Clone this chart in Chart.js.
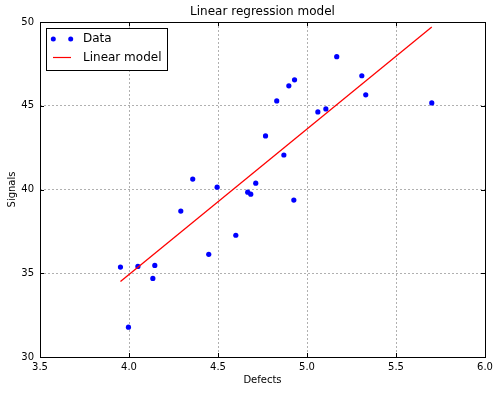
<!DOCTYPE html>
<html>
<head>
<meta charset="utf-8">
<script src="https://cdn.jsdelivr.net/npm/chart.js@4/dist/chart.umd.min.js"></script>
<style>
  html, body { margin: 0; padding: 0; background: #fff; }
  #wrap { width: 500px; height: 393px; position: relative; }
</style>
</head>
<body>
<div id="wrap"><canvas id="c" width="500" height="393"></canvas></div>
<script>
const chartTitle = "Linear regression model";
const xTitle = "Defects";
const yTitle = "Signals";
const seriesNames = ["Data", "Linear model"];

const defects = [3.952, 3.997, 4.050, 4.134, 4.145, 4.291, 4.358, 4.495, 4.448, 4.600,
                 4.667, 4.684, 4.712, 4.767, 4.830, 4.870, 4.898, 4.930, 4.926, 5.061,
                 5.106, 5.167, 5.308, 5.330, 5.701];
const signals = [35.37, 31.78, 35.41, 34.69, 35.47, 38.71, 40.62, 40.14, 36.13, 37.27,
                 39.84, 39.72, 40.38, 43.20, 45.29, 42.06, 46.19, 46.55, 39.37, 44.63,
                 44.81, 47.93, 46.79, 45.65, 45.17];
const modelX = [3.952, 5.701];
const modelY = [34.51, 49.70];

const xMin = 3.5, xMax = 6.0, xStep = 0.5;
const yMin = 30, yMax = 50, yStep = 5;

const FONT = "'DejaVu Sans', sans-serif";

const framePlugin = {
  id: 'frame',
  afterDraw(chart) {
    const ctx = chart.ctx;
    const a = chart.chartArea;
    const xs = chart.scales.x, ys = chart.scales.y;
    ctx.save();
    ctx.strokeStyle = '#000';
    ctx.lineWidth = 1;
    // inward ticks
    ctx.beginPath();
    xs.ticks.forEach(t => {
      const px = Math.round(xs.getPixelForValue(t.value)) + 0.5;
      ctx.moveTo(px, a.bottom); ctx.lineTo(px, a.bottom - 4);
      ctx.moveTo(px, a.top); ctx.lineTo(px, a.top + 4);
    });
    ys.ticks.forEach(t => {
      const py = Math.round(ys.getPixelForValue(t.value)) + 0.5;
      ctx.moveTo(a.left, py); ctx.lineTo(a.left + 4, py);
      ctx.moveTo(a.right, py); ctx.lineTo(a.right - 4, py);
    });
    ctx.stroke();
    ctx.strokeRect(Math.round(a.left) + 0.5, Math.round(a.top) + 0.5,
                   Math.round(a.right - a.left), Math.round(a.bottom - a.top));
    // title
    ctx.fillStyle = '#000';
    ctx.font = "12px " + FONT;
    ctx.textAlign = 'center';
    ctx.textBaseline = 'middle';
    ctx.fillText(chartTitle, (a.left + a.right) / 2, 12);
    // legend
    const lx = Math.round(a.left) + 6, ly = Math.round(a.top) + 6;
    const lw = 121, lh = 42;
    ctx.fillStyle = '#fff';
    ctx.fillRect(lx, ly, lw, lh);
    ctx.strokeStyle = '#000';
    ctx.strokeRect(lx + 0.5, ly + 0.5, lw, lh);
    ctx.fillStyle = '#0000ff';
    [53.3, 70.7].forEach(cx => {
      ctx.beginPath(); ctx.arc(cx, 39, 2.5, 0, Math.PI * 2); ctx.fill();
    });
    ctx.strokeStyle = '#ff0000';
    ctx.lineWidth = 1.2;
    ctx.beginPath(); ctx.moveTo(53, 57.5); ctx.lineTo(71, 57.5); ctx.stroke();
    ctx.fillStyle = '#000';
    ctx.font = "12px " + FONT;
    ctx.textAlign = 'left';
    ctx.fillText(seriesNames[0], 83, 39);
    ctx.fillText(seriesNames[1], 83, 57.5);
    ctx.restore();
  }
};

new Chart(document.getElementById('c'), {
  type: 'scatter',
  data: {
    datasets: [
      {
        label: seriesNames[0],
        data: defects.map((x, i) => ({ x: x, y: signals[i] })),
        backgroundColor: '#0000ff',
        borderWidth: 0,
        pointRadius: 2.6,
        order: 1
      },
      {
        type: 'line',
        label: seriesNames[1],
        data: modelX.map((x, i) => ({ x: x, y: modelY[i] })),
        borderColor: '#ff0000',
        borderWidth: 1.3,
        pointRadius: 0,
        fill: false,
        showLine: true,
        order: 0
      }
    ]
  },
  options: {
    responsive: false,
    animation: false,
    devicePixelRatio: 1,
    layout: { padding: { top: 22, right: 15, bottom: 0, left: 0 } },
    plugins: { legend: { display: false }, tooltip: { enabled: false }, title: { display: false } },
    scales: {
      x: {
        type: 'linear', min: xMin, max: xMax,
        afterFit(s) { s.height = 36; },
        ticks: { stepSize: xStep, color: '#000', padding: 4, font: { family: FONT, size: 10 },
                 callback: v => v.toFixed(1), maxRotation: 0 },
        grid: { color: '#b0b0b0', drawTicks: false, lineWidth: 1 },
        border: { display: false, dash: [2, 2] },
        title: { display: true, text: xTitle, color: '#000', font: { family: FONT, size: 10 }, padding: { top: 0, bottom: 7 } }
      },
      y: {
        type: 'linear', min: yMin, max: yMax,
        afterFit(s) { s.width = 40; },
        ticks: { stepSize: yStep, color: '#000', padding: 6, font: { family: FONT, size: 10 },
                 callback: v => String(v) },
        grid: { color: '#b0b0b0', drawTicks: false, lineWidth: 1 },
        border: { display: false, dash: [2, 2] },
        title: { display: true, text: yTitle, color: '#000', font: { family: FONT, size: 10 }, padding: { top: 6, bottom: 0 } }
      }
    }
  },
  plugins: [framePlugin]
});
</script>
</body>
</html>
